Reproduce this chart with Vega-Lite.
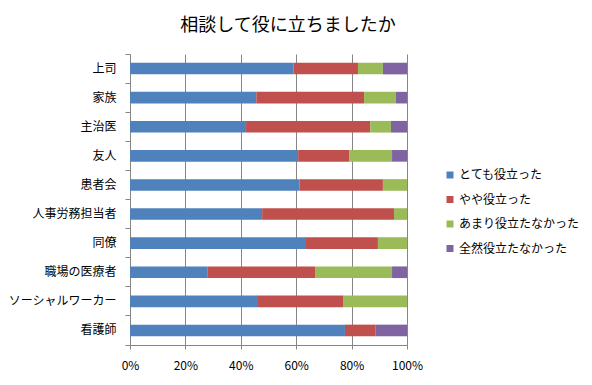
{
  "$schema": "https://vega.github.io/schema/vega-lite/v6.json",
  "width": 277,
  "height": 291,
  "autosize": {"type": "none"},
  "padding": {"left": 130, "top": 54, "right": 185, "bottom": 40},
  "background": "white",
  "title": {
    "text": "相談して役に立ちましたか",
    "font": "Noto Sans CJK JP",
    "fontSize": 18,
    "fontWeight": "normal",
    "color": "#000000",
    "anchor": "middle",
    "frame": "bounds",
    "dx": -6,
    "offset": 13
  },
  "data": {
    "values": [
      {"source": "上司", "answer": "とても役立った", "pct": 59.0},
      {"source": "上司", "answer": "やや役立った", "pct": 23.3},
      {"source": "上司", "answer": "あまり役立たなかった", "pct": 9.0},
      {"source": "上司", "answer": "全然役立たなかった", "pct": 8.7},
      {"source": "家族", "answer": "とても役立った", "pct": 45.6},
      {"source": "家族", "answer": "やや役立った", "pct": 38.9},
      {"source": "家族", "answer": "あまり役立たなかった", "pct": 11.5},
      {"source": "家族", "answer": "全然役立たなかった", "pct": 4.0},
      {"source": "主治医", "answer": "とても役立った", "pct": 41.9},
      {"source": "主治医", "answer": "やや役立った", "pct": 44.8},
      {"source": "主治医", "answer": "あまり役立たなかった", "pct": 7.5},
      {"source": "主治医", "answer": "全然役立たなかった", "pct": 5.8},
      {"source": "友人", "answer": "とても役立った", "pct": 60.7},
      {"source": "友人", "answer": "やや役立った", "pct": 18.4},
      {"source": "友人", "answer": "あまり役立たなかった", "pct": 15.5},
      {"source": "友人", "answer": "全然役立たなかった", "pct": 5.4},
      {"source": "患者会", "answer": "とても役立った", "pct": 61.2},
      {"source": "患者会", "answer": "やや役立った", "pct": 30.1},
      {"source": "患者会", "answer": "あまり役立たなかった", "pct": 8.7},
      {"source": "患者会", "answer": "全然役立たなかった", "pct": 0},
      {"source": "人事労務担当者", "answer": "とても役立った", "pct": 47.7},
      {"source": "人事労務担当者", "answer": "やや役立った", "pct": 47.6},
      {"source": "人事労務担当者", "answer": "あまり役立たなかった", "pct": 4.7},
      {"source": "人事労務担当者", "answer": "全然役立たなかった", "pct": 0},
      {"source": "同僚", "answer": "とても役立った", "pct": 63.2},
      {"source": "同僚", "answer": "やや役立った", "pct": 26.3},
      {"source": "同僚", "answer": "あまり役立たなかった", "pct": 10.5},
      {"source": "同僚", "answer": "全然役立たなかった", "pct": 0},
      {"source": "職場の医療者", "answer": "とても役立った", "pct": 27.9},
      {"source": "職場の医療者", "answer": "やや役立った", "pct": 38.9},
      {"source": "職場の医療者", "answer": "あまり役立たなかった", "pct": 27.8},
      {"source": "職場の医療者", "answer": "全然役立たなかった", "pct": 5.4},
      {"source": "ソーシャルワーカー", "answer": "とても役立った", "pct": 46.2},
      {"source": "ソーシャルワーカー", "answer": "やや役立った", "pct": 30.7},
      {"source": "ソーシャルワーカー", "answer": "あまり役立たなかった", "pct": 23.1},
      {"source": "ソーシャルワーカー", "answer": "全然役立たなかった", "pct": 0},
      {"source": "看護師", "answer": "とても役立った", "pct": 77.6},
      {"source": "看護師", "answer": "やや役立った", "pct": 11.1},
      {"source": "看護師", "answer": "あまり役立たなかった", "pct": 0},
      {"source": "看護師", "answer": "全然役立たなかった", "pct": 11.3}
    ]
  },
  "transform": [
    {"calculate": "indexof(['とても役立った','やや役立った','あまり役立たなかった','全然役立たなかった'], datum.answer)", "as": "stackOrder"}
  ],
  "mark": {"type": "bar", "height": {"band": 0.4}},
  "encoding": {
    "y": {
      "field": "source",
      "type": "nominal",
      "sort": ["上司", "家族", "主治医", "友人", "患者会", "人事労務担当者", "同僚", "職場の医療者", "ソーシャルワーカー", "看護師"],
      "scale": {"paddingInner": 0, "paddingOuter": 0},
      "axis": {
        "title": null,
        "bandPosition": 1,
        "tickExtra": true,
        "tickSize": 5,
        "tickColor": "#868686",
        "domainColor": "#868686",
        "labelFont": "Noto Sans CJK JP",
        "labelFontSize": 12,
        "labelColor": "#000000",
        "labelPadding": 9,
        "grid": false
      }
    },
    "x": {
      "field": "pct",
      "type": "quantitative",
      "stack": "normalize",
      "scale": {"domain": [0, 1], "nice": false},
      "axis": {
        "title": null,
        "format": "%",
        "values": [0, 0.2, 0.4, 0.6, 0.8, 1],
        "labelFlush": false,
        "grid": true,
        "gridColor": "#868686",
        "gridOpacity": 1,
        "tickSize": 4,
        "tickColor": "#868686",
        "domainColor": "#868686",
        "labelFont": "Noto Sans CJK JP",
        "labelFontSize": 12,
        "labelColor": "#000000",
        "labelPadding": 11
      }
    },
    "order": {"field": "stackOrder", "type": "quantitative", "sort": "ascending"},
    "color": {
      "field": "answer",
      "type": "nominal",
      "sort": ["とても役立った", "やや役立った", "あまり役立たなかった", "全然役立たなかった"],
      "scale": {
        "domain": ["とても役立った", "やや役立った", "あまり役立たなかった", "全然役立たなかった"],
        "range": ["#4F81BD", "#C0504D", "#9BBB59", "#8064A2"]
      },
      "legend": {
        "title": null,
        "orient": "none",
        "legendX": 314,
        "legendY": 115,
        "symbolType": "square",
        "symbolSize": 49,
        "symbolStrokeWidth": 0,
        "symbolOpacity": 1,
        "labelFont": "Noto Sans CJK JP",
        "labelFontSize": 12,
        "labelColor": "#000000",
        "labelOffset": 3,
        "rowPadding": 12.5
      }
    }
  },
  "config": {
    "view": {"stroke": null}
  }
}
